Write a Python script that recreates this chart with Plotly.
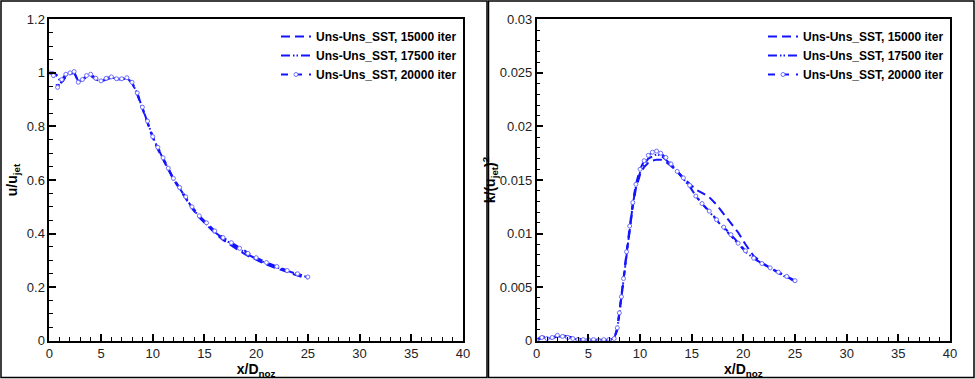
import plotly.graph_objects as go

# ---------------- data ----------------
series_names = ["Uns-Uns_SST, 15000 iter", "Uns-Uns_SST, 17500 iter", "Uns-Uns_SST, 20000 iter"]

x_u = [0, 0.4, 0.8, 1.2, 1.6, 2.0, 2.4, 2.8, 3.2, 3.6, 4.0, 4.5, 5.0, 5.5, 6.0, 6.5, 7.0, 7.5,
       8.0, 8.5, 9.0, 9.5, 10.0, 10.5, 11.0, 11.5, 12.0, 12.6, 13.2, 13.8, 14.5, 15.2, 16.0,
       16.8, 17.6, 18.4, 19.2, 20.0, 21.0, 22.0, 23.0, 24.0, 25.0]

u_15000 = [1.0, 1.0, 0.99, 0.965, 0.985, 0.995, 1.0, 0.97, 0.972, 0.985, 0.99, 0.975, 0.968, 0.975, 0.982,
           0.976, 0.975, 0.98, 0.962, 0.92, 0.866, 0.812, 0.758, 0.714, 0.676, 0.638, 0.602, 0.566, 0.53,
           0.494, 0.46, 0.432, 0.402, 0.376, 0.355, 0.335, 0.317, 0.301, 0.284, 0.27, 0.256, 0.243, 0.232]

u_17500 = [1.0, 1.0, 0.985, 0.96, 0.99, 0.998, 1.003, 0.968, 0.974, 0.988, 0.993, 0.978, 0.969, 0.978, 0.984,
           0.977, 0.977, 0.981, 0.964, 0.923, 0.869, 0.816, 0.762, 0.718, 0.68, 0.642, 0.604, 0.569, 0.534,
           0.497, 0.463, 0.436, 0.406, 0.381, 0.361, 0.341, 0.322, 0.306, 0.288, 0.274, 0.26, 0.248, 0.237]

u_20000 = [1.0, 0.99, 0.946, 0.975, 0.995, 1.0, 1.005, 0.965, 0.975, 0.99, 0.995, 0.98, 0.97, 0.98, 0.985,
           0.978, 0.978, 0.982, 0.965, 0.925, 0.872, 0.82, 0.762, 0.722, 0.683, 0.644, 0.606, 0.572, 0.537,
           0.5, 0.466, 0.44, 0.41, 0.385, 0.366, 0.345, 0.326, 0.31, 0.292, 0.277, 0.262, 0.25, 0.238]

x_k = [0, 0.5, 1.0, 1.5, 2.0, 2.5, 3.0, 3.5, 4.0, 4.5, 5.0, 5.5, 6.0, 6.5, 7.0, 7.5, 7.8, 8.0, 8.2,
       8.4, 8.7, 9.0, 9.3, 9.6, 10.0, 10.4, 10.8, 11.2, 11.6, 12.0, 12.5, 13.0, 13.6, 14.2, 14.8,
       15.4, 16.0, 16.7, 17.4, 18.1, 18.8, 19.5, 20.2, 21.0, 21.8, 22.6, 23.4, 24.2, 25.0]

k_15000 = [0.0001, 0.0004, 0.0003, 0.0002, 0.0004, 0.0005, 0.0004, 0.0003, 0.0002, 0.0001, 0.0001, 0.0001,
           0.0001, 0.0, 0.0001, 0.0002, 0.001, 0.0024, 0.0039, 0.0056, 0.0081, 0.0104, 0.0125, 0.0142,
           0.0155, 0.0162, 0.0166, 0.0168, 0.0169, 0.0169, 0.0167, 0.0163, 0.0158, 0.0152, 0.0146,
           0.0141, 0.0138, 0.0134, 0.0127, 0.0118, 0.011, 0.0101, 0.009, 0.0079, 0.0073, 0.0068,
           0.0064, 0.006, 0.0055]

k_17500 = [0.0, 0.0003, 0.0002, 0.0002, 0.0004, 0.0004, 0.0003, 0.0002, 0.0001, 0.0001, 0.0001, 0.0,
           0.0001, 0.0001, 0.0, 0.0002, 0.0011, 0.0025, 0.004, 0.0057, 0.0082, 0.0105, 0.0127, 0.0144,
           0.0157, 0.0165, 0.017, 0.0172, 0.0174, 0.0173, 0.0169, 0.0164, 0.0158, 0.0151, 0.0144,
           0.0135, 0.0128, 0.012, 0.0112, 0.0105, 0.0098, 0.009, 0.0083, 0.0077, 0.0072, 0.0068,
           0.0063, 0.0059, 0.0056]

k_20000 = [0.0, 0.0003, 0.0002, 0.0003, 0.0005, 0.0004, 0.0003, 0.0002, 0.0001, 0.0001, 0.0001, 0.0001,
           0.0, 0.0001, 0.0001, 0.0002, 0.0012, 0.0026, 0.0041, 0.0058, 0.0083, 0.0107, 0.0129, 0.0146,
           0.016, 0.0168, 0.0173, 0.0176, 0.0177, 0.0175, 0.0171, 0.0165, 0.0158, 0.0152, 0.0145,
           0.0135, 0.0128, 0.0121, 0.0113, 0.0106, 0.0099, 0.0091, 0.0084, 0.0077, 0.0072, 0.0068,
           0.0064, 0.006, 0.0056]

x_ticks = [0, 5, 10, 15, 20, 25, 30, 35, 40]

# ---------------- styles ----------------
BLUE = "rgb(20,20,255)"
W, H = 975, 379
FONT = "Liberation Sans, Arial, Helvetica, sans-serif"

dashes = ["9px,5px", "9px,3px,1.5px,2px,1.5px,3px", "7px,7px"]

fig = go.Figure()

u_data = [u_15000, u_17500, u_20000]
k_data = [k_15000, k_17500, k_20000]

def marker_style():
    return dict(symbol="circle", size=4, color="white", line=dict(color="rgb(110,110,255)", width=1))

for i in range(3):
    fig.add_trace(go.Scatter(x=x_u, y=u_data[i], mode="lines+markers" if i == 2 else "lines",
                             name=series_names[i],
                             line=dict(color=BLUE, width=2, dash=dashes[i]),
                             marker=marker_style() if i == 2 else None,
                             xaxis="x", yaxis="y", legend="legend"))
for i in range(3):
    fig.add_trace(go.Scatter(x=x_k, y=k_data[i], mode="lines+markers" if i == 2 else "lines",
                             name=series_names[i],
                             line=dict(color=BLUE, width=2, dash=dashes[i]),
                             marker=marker_style() if i == 2 else None,
                             xaxis="x2", yaxis="y2", legend="legend2"))

def px_x(p):
    return p / W

def px_y(p):
    return 1 - p / H

axis_common = dict(showline=True, linecolor="black", linewidth=1.5, mirror=True,
                   ticks="inside", ticklen=7, tickwidth=1.5, tickcolor="black",
                   showgrid=False, zeroline=False, automargin=False,
                   tickfont=dict(family=FONT, size=13, color="#222"))

xa = dict(axis_common, range=[0, 40], tickvals=x_ticks,
          minor=dict(dtick=1, ticks="inside", ticklen=4, tickwidth=1, tickcolor="black", showgrid=False),
          title=dict(text="<b>x/D<sub>noz</sub></b>", font=dict(family=FONT, size=14, color="black"), standoff=2))

fig.update_layout(
    template="none",
    width=W, height=H,
    margin=dict(l=0, r=0, t=0, b=0, autoexpand=False),
    paper_bgcolor="white", plot_bgcolor="white",
    showlegend=True,
    xaxis=dict(xa, domain=[px_x(49.3), px_x(463)], anchor="y"),
    xaxis2=dict(xa, domain=[px_x(536.7), px_x(950)], anchor="y2"),
    yaxis=dict(axis_common, domain=[px_y(340.7), px_y(19.3)], anchor="x", range=[0, 1.2], dtick=0.2,
               minor=dict(dtick=0.05, ticks="inside", ticklen=4, tickwidth=1, tickcolor="black", showgrid=False),
               title=dict(text="<b>u/u<sub>jet</sub></b>", font=dict(family=FONT, size=14, color="black"), standoff=6)),
    yaxis2=dict(axis_common, domain=[px_y(340.7), px_y(19.3)], anchor="x2", range=[0, 0.03], dtick=0.005,
                minor=dict(dtick=0.001, ticks="inside", ticklen=4, tickwidth=1, tickcolor="black", showgrid=False),
                title=dict(text="<b>k/(u<sub>jet</sub>)<sup>2</sup></b>", font=dict(family=FONT, size=14, color="black"), standoff=0)),
    legend=dict(x=px_x(462), xanchor="right", y=px_y(22), yanchor="top", bgcolor="rgba(0,0,0,0)",
                font=dict(family=FONT, size=12, color="black", weight="bold"), tracegroupgap=0),
    legend2=dict(x=px_x(949), xanchor="right", y=px_y(22), yanchor="top", bgcolor="rgba(0,0,0,0)",
                 font=dict(family=FONT, size=12, color="black", weight="bold"), tracegroupgap=0),
    shapes=[
        dict(type="rect", xref="paper", yref="paper", x0=px_x(1), x1=px_x(487), y0=px_y(377.5), y1=px_y(1),
             line=dict(color="black", width=1.5)),
        dict(type="rect", xref="paper", yref="paper", x0=px_x(488.5), x1=px_x(974), y0=px_y(377.5), y1=px_y(1),
             line=dict(color="black", width=1.5)),
    ],
)

fig.write_html("out.html", config={"displayModeBar": False},
               post_script="document.body.style.margin='0';document.body.style.padding='0';document.body.style.overflow='hidden';")
